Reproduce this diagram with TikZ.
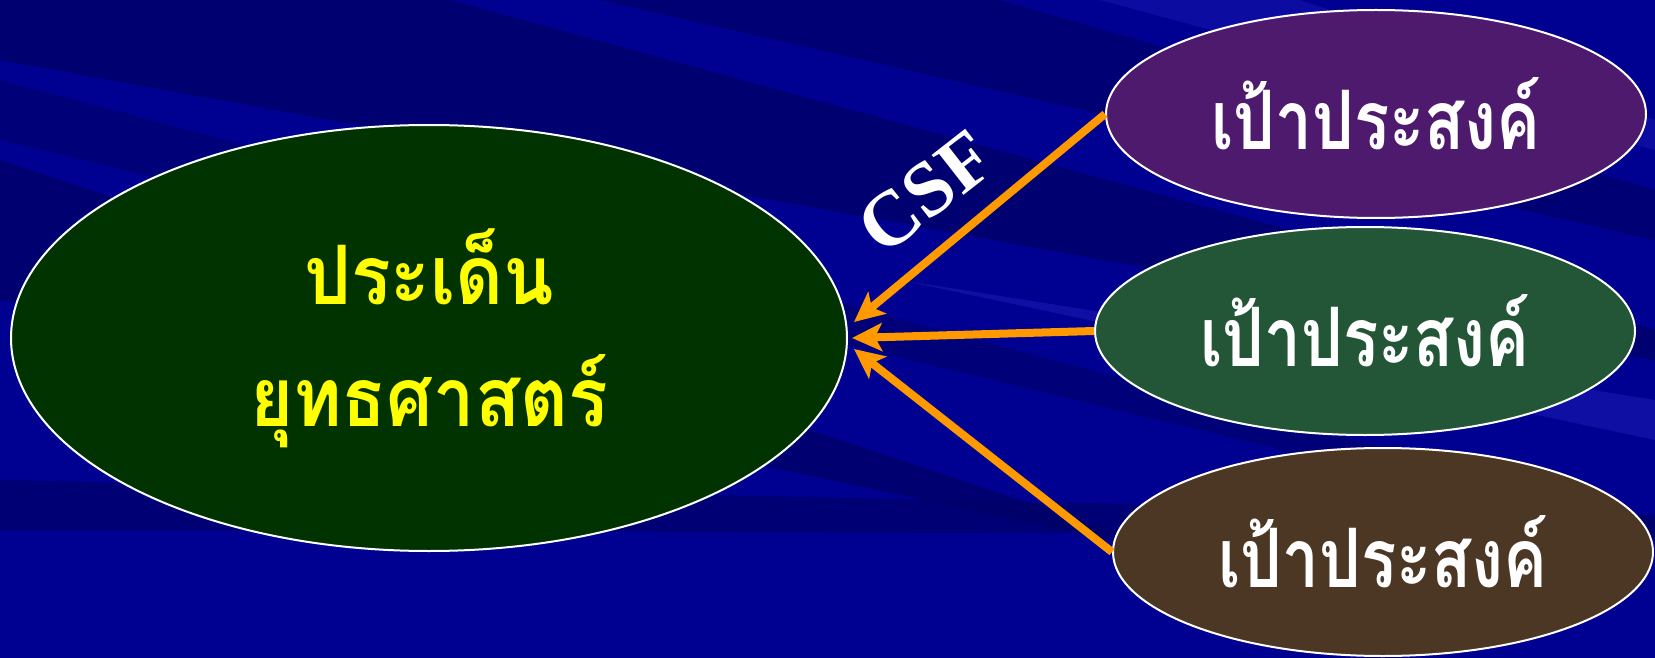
\documentclass[tikz,border=0pt]{standalone}
\usepackage{fontspec}
\setmainfont{Liberation Serif}
\newfontfamily\thaifont[Script=Thai,FakeStretch=0.8]{Loma}
\newfontfamily\thaibig[Script=Thai,FakeStretch=0.9]{Loma}
\usetikzlibrary{shapes.geometric,arrows.meta}
\definecolor{bgblue}{RGB}{0,0,145}
\definecolor{bgdark}{RGB}{0,0,105}
\definecolor{bglight}{RGB}{25,25,175}
\definecolor{biggreen}{RGB}{0,51,0}
\definecolor{purp}{RGB}{78,26,110}
\definecolor{marble}{RGB}{35,85,55}
\definecolor{wood}{RGB}{75,55,35}
\definecolor{arrorange}{RGB}{255,153,0}
\definecolor{ttyellow}{RGB}{255,255,0}
\tikzset{
  oval/.style={ellipse, draw=white, line width=2pt, inner sep=0pt},
  goal/.style={oval, minimum width=540pt, minimum height=208pt, text=white,
    font=\thaifont\bfseries\fontsize{82}{84}\selectfont},
  arr/.style={draw=arrorange, line width=8pt, -{Stealth[length=30pt,width=28pt,inset=7pt]}},
}
\begin{document}
\begin{tikzpicture}[x=1pt,y=-1pt]
\useasboundingbox (0,0) rectangle (1655,658);
\fill[bgblue] (0,0) rectangle (1655,658);
% background streaks
\fill[bgdark,opacity=0.8] (0,0) -- (450,0) -- (1655,330) -- (1655,360) -- (0,60) -- cycle;
\fill[bgdark,opacity=0.7] (600,0) -- (1000,0) -- (1655,190) -- (1655,240) -- cycle;
\fill[bgdark,opacity=0.6] (0,80) -- (1655,520) -- (1655,540) -- (0,140) -- cycle;
\fill[bgdark,opacity=0.8] (0,160) -- (1200,560) -- (0,300) -- cycle;
\fill[bglight,opacity=0.5] (1100,0) -- (1300,0) -- (1655,120) -- (1655,150) -- cycle;
\fill[bglight,opacity=0.6] (900,280) -- (1655,400) -- (1655,440) -- cycle;
\fill[bgdark,opacity=0.7] (0,480) -- (1655,515) -- (1655,535) -- (0,530) -- cycle;

\node[oval, fill=biggreen, minimum width=836pt, minimum height=426pt, text=ttyellow,
  align=center, font=\thaibig\bfseries\fontsize{82}{122}\selectfont] (big) at (429,338)
  {ประเด็น\\ยุทธศาสตร์};

\node[goal, fill=purp] (g1) at (1376,114) {เป้าประสงค์};
\node[goal, fill=marble] (g2) at (1365,331) {เป้าประสงค์};
\node[goal, fill=wood] (g3) at (1383,552) {เป้าประสงค์};

\draw[arr] (g1.west) -- ([xshift=6pt,yshift=16pt]big.east);
\draw[arr] (g2.west) -- ([xshift=4pt]big.east);
\draw[arr] (g3.west) -- ([xshift=6pt,yshift=-11pt]big.east);

\node[text=white, font=\bfseries\fontsize{78}{78}\selectfont, rotate=38] (csf) at (926,192) {CSF};
\end{tikzpicture}
\end{document}
